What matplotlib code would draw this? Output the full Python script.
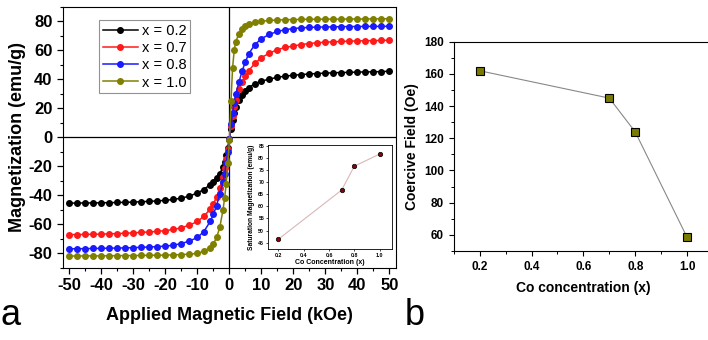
import numpy as np
import matplotlib.pyplot as plt
from matplotlib.ticker import MultipleLocator

plt.rcParams['font.family'] = ['Liberation Sans', 'DejaVu Sans']
plt.rcParams['axes.unicode_minus'] = False

# applied field (kOe)
field = [-50, -47.5, -45, -42.5, -40, -37.5, -35, -32.5, -30, -27.5, -25, -22.5,
         -20, -17.5, -15, -12.5, -10, -8, -6, -5, -4, -3, -2, -1.5, -1, -0.5, 0,
         0.5, 1, 1.5, 2, 3, 4, 5, 6, 8, 10, 12.5, 15, 17.5, 20, 22.5, 25, 27.5,
         30, 32.5, 35, 37.5, 40, 42.5, 45, 47.5, 50]

m_02 = [-45.3, -45.3, -45.2, -45.2, -45.1, -45.0, -44.9, -44.8, -44.6, -44.4, -44.1, -43.8,
        -43.4, -42.8, -41.9, -40.5, -38.3, -36.0, -32.5, -30.5, -28.0, -25.0, -20.5, -17.0, -12.5, -7.0, -1.0,
        6.0, 12.0, 17.0, 21.0, 26.0, 29.5, 32.3, 34.3, 37.0, 38.7, 40.2, 41.4, 42.2, 42.8, 43.3, 43.7, 44.0,
        44.3, 44.5, 44.7, 44.8, 45.0, 45.1, 45.2, 45.3, 45.6]

m_07 = [-67.0, -67.0, -66.9, -66.8, -66.7, -66.5, -66.3, -66.1, -65.8, -65.5, -65.2, -64.8,
        -64.3, -63.5, -62.3, -60.5, -58.0, -54.5, -49.5, -46.0, -41.0, -35.0, -27.0, -21.0, -15.0, -8.0, -1.0,
        8.0, 15.0, 21.0, 26.0, 33.0, 38.0, 42.0, 46.0, 51.0, 55.0, 58.0, 60.5, 62.0, 63.0, 64.0, 64.7, 65.2,
        65.6, 65.9, 66.1, 66.3, 66.5, 66.6, 66.7, 66.8, 67.0]

m_08 = [-76.8, -76.8, -76.7, -76.6, -76.5, -76.4, -76.3, -76.2, -76.0, -75.8, -75.6, -75.3,
        -75.0, -74.3, -73.2, -71.5, -69.0, -65.0, -58.0, -53.0, -47.0, -39.0, -31.0, -25.0, -18.0, -10.0, -1.0,
        9.0, 17.0, 24.0, 30.0, 38.0, 46.0, 52.0, 57.5, 64.0, 68.0, 71.0, 73.0, 74.2, 75.0, 75.5, 75.8, 76.0,
        76.1, 76.2, 76.3, 76.4, 76.4, 76.5, 76.5, 76.5, 76.6]

m_10 = [-81.8, -81.8, -81.7, -81.7, -81.7, -81.6, -81.6, -81.5, -81.5, -81.4, -81.3, -81.2,
        -81.2, -81.0, -80.8, -80.5, -80.0, -78.5, -76.0, -73.5, -69.0, -62.0, -50.0, -42.0, -32.0, -18.0, -2.0,
        25.0, 48.0, 60.0, 66.0, 71.5, 74.5, 76.5, 77.8, 79.3, 80.0, 80.6, 80.9, 81.1, 81.2, 81.3, 81.4, 81.4,
        81.5, 81.5, 81.5, 81.6, 81.6, 81.6, 81.7, 81.7, 81.8]

series_labels = ['x = 0.2', 'x = 0.7', 'x = 0.8', 'x = 1.0']
series_colors = ['#000000', '#ff1a1a', '#1a1aff', '#808000']

# saturation magnetization (inset) and coercive field (panel b)
co_conc = [0.2, 0.7, 0.8, 1.0]
m_sat = [46.5, 66.7, 76.5, 81.5]
h_coercive = [162, 145, 124, 58.5]

fig = plt.figure(figsize=(7.08, 3.4), dpi=100)

# ----- panel a -----
ax = fig.add_axes([0.089, 0.212, 0.470, 0.768])
for m, lab, c in zip([m_02, m_07, m_08, m_10], series_labels, series_colors):
    ax.plot(field, m, '-o', color=c, lw=1.1, ms=4.0, label=lab)
ax.axhline(0, color='black', lw=0.9, zorder=0)
ax.axvline(0, color='black', lw=0.9, zorder=0)
ax.set_xlim(-52, 52)
ax.set_ylim(-90, 90)
ax.set_xticks(np.arange(-50, 51, 10))
ax.set_yticks(np.arange(-80, 81, 20))
ax.xaxis.set_minor_locator(MultipleLocator(5))
ax.yaxis.set_minor_locator(MultipleLocator(10))
ax.tick_params(which='both', direction='out', top=False, right=False)
ax.tick_params(which='major', length=4, width=0.9, labelsize=12)
ax.tick_params(which='minor', length=2.5, width=0.8)
for t in ax.get_xticklabels() + ax.get_yticklabels():
    t.set_fontweight('bold')
ax.set_xlabel('Applied Magnetic Field (kOe)', fontsize=13, fontweight='bold', labelpad=10)
ax.set_ylabel('Magnetization (emu/g)', fontsize=13, fontweight='bold', labelpad=2)
leg = ax.legend(loc='upper left', bbox_to_anchor=(0.095, 0.965), fontsize=10.5,
                frameon=True, fancybox=False, handlelength=2.4, handletextpad=0.3,
                borderpad=0.25, labelspacing=0.22, borderaxespad=0.3)
leg.get_frame().set_edgecolor('#777777')
leg.get_frame().set_linewidth(0.8)

# ----- inset -----
axi = fig.add_axes([0.379, 0.268, 0.175, 0.306])
axi.plot(co_conc, m_sat, '-o', color='#d8b8b8', lw=0.8, ms=3.2,
         mfc='#8b0000', mec='black', mew=0.5)
axi.set_xlim(0.12, 1.1)
axi.set_ylim(42.5, 85.3)
axi.set_xticks([0.2, 0.4, 0.6, 0.8, 1.0])
axi.set_yticks(np.arange(45, 86, 5))
axi.tick_params(which='both', direction='out', top=False, right=False, labelsize=3.8,
                length=1.5, width=0.5, pad=1.5)
for t in axi.get_xticklabels() + axi.get_yticklabels():
    t.set_fontweight('bold')
for s in axi.spines.values():
    s.set_linewidth(0.6)
axi.set_xlabel('Co Concentration (x)', fontsize=5, fontweight='bold', labelpad=1)
axi.set_ylabel('Saturation Magnetization (emu/g)', fontsize=4.8, fontweight='bold', labelpad=2)

# ----- panel b -----
axb = fig.add_axes([0.641, 0.262, 0.366, 0.615])
axb.plot(co_conc, h_coercive, '-s', color='#888888', lw=0.8, ms=5.5,
         mfc='#7a7a00', mec='black', mew=0.8)
axb.set_xlim(0.1, 1.1)
axb.set_ylim(50, 180)
axb.set_xticks([0.2, 0.4, 0.6, 0.8, 1.0])
axb.set_yticks(np.arange(60, 181, 20))
axb.xaxis.set_minor_locator(MultipleLocator(0.1))
axb.yaxis.set_minor_locator(MultipleLocator(10))
axb.tick_params(which='both', direction='out', top=False, right=False)
axb.tick_params(which='major', length=3.5, width=0.8, labelsize=8.5)
axb.tick_params(which='minor', length=2, width=0.7)
for t in axb.get_xticklabels() + axb.get_yticklabels():
    t.set_fontweight('bold')
axb.set_xlabel('Co concentration (x)', fontsize=10, fontweight='bold', labelpad=6)
axb.set_ylabel('Coercive Field (Oe)', fontsize=10, fontweight='bold', labelpad=4)

fig.text(0.0, 0.045, 'a', fontsize=26)
fig.text(0.572, 0.045, 'b', fontsize=26)

fig.savefig('out.png', dpi=100)
